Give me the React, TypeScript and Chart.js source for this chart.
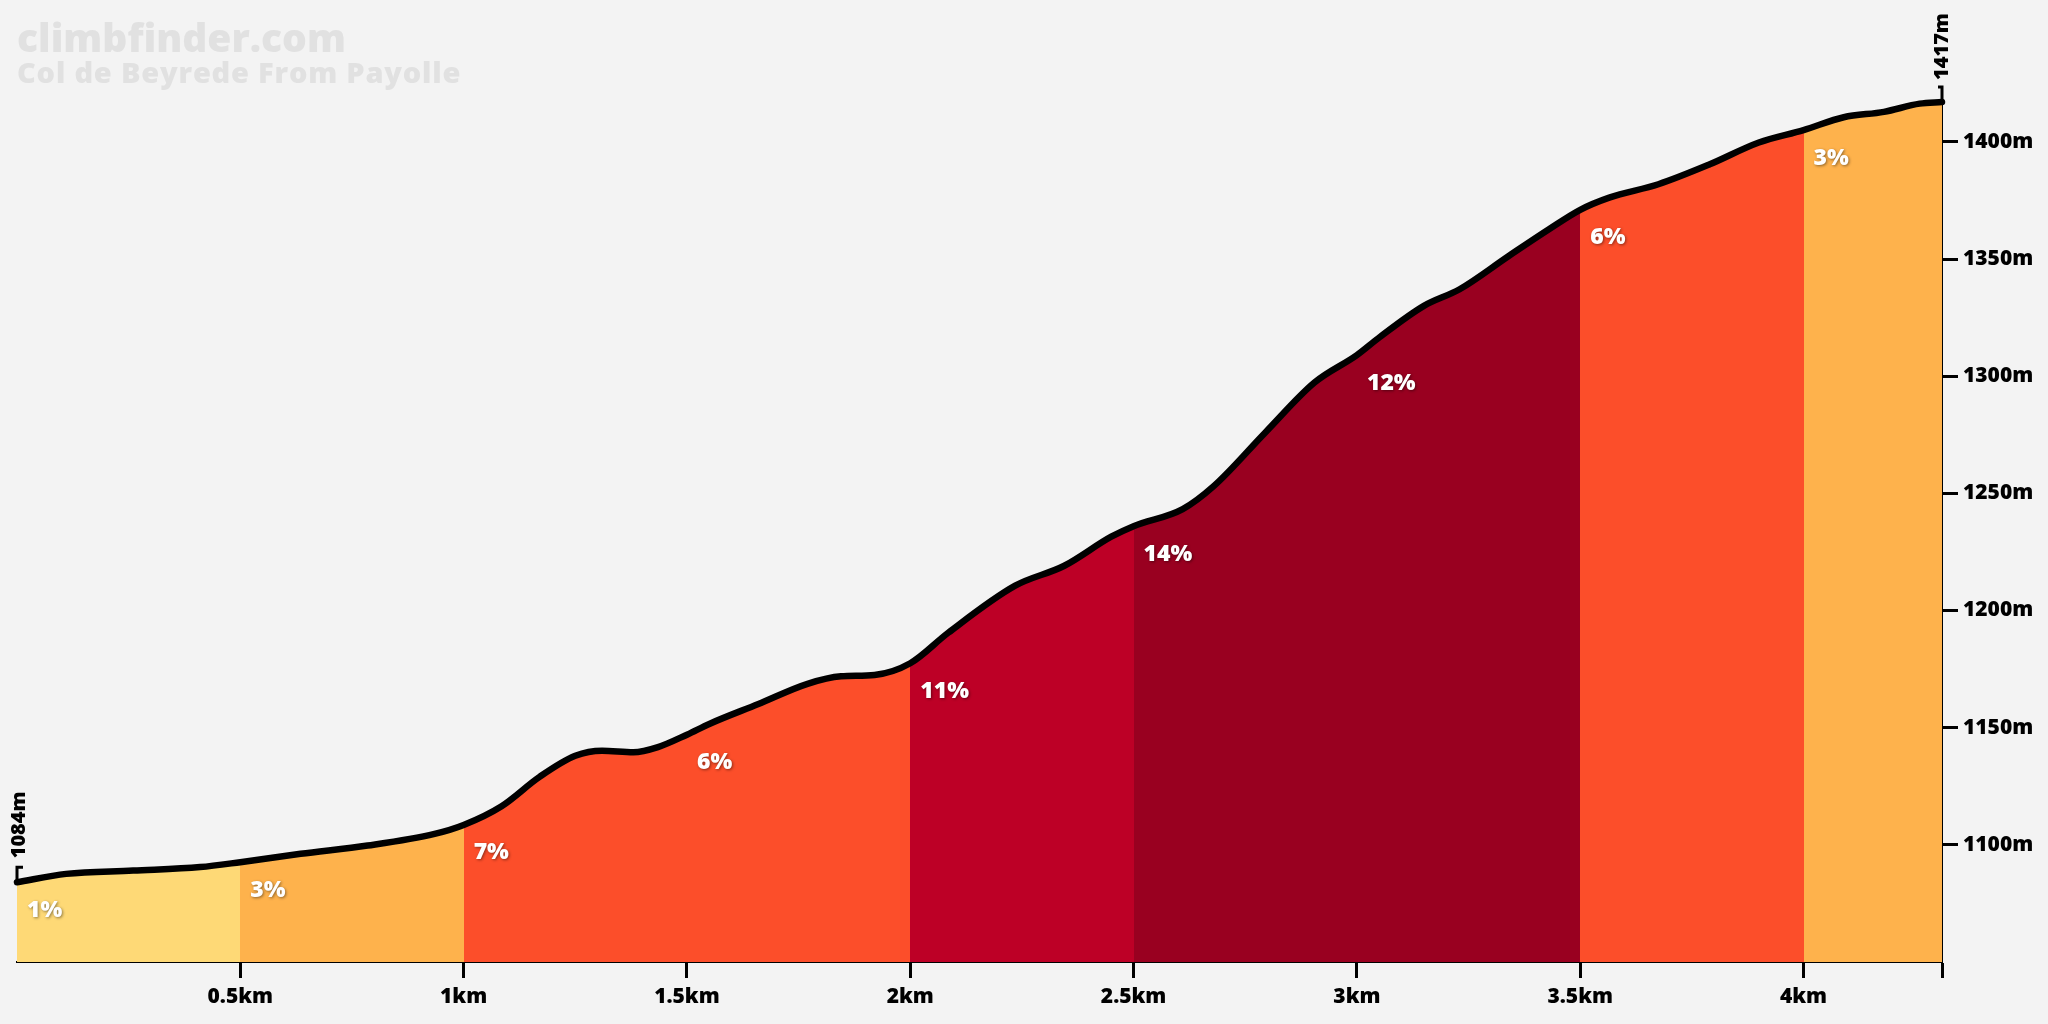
import React, { useEffect, useRef } from "react";
import { Chart, registerables } from "chart.js";

Chart.register(...registerables);

const TITLE = "climbfinder.com";
const SUBTITLE = "Col de Beyrede From Payolle";

// Profile (distance in km, elevation in m)
const distanceKm = [
  0, 0.11, 0.26, 0.41, 0.5, 0.635, 0.785, 0.935, 1.0, 1.085, 1.17, 1.25, 1.31,
  1.38, 1.435, 1.5, 1.55, 1.66, 1.77, 1.845, 1.92, 2.0, 2.085, 2.235, 2.345,
  2.45, 2.5, 2.61, 2.68, 2.795, 2.905, 3.0, 3.05, 3.15, 3.23, 3.34, 3.43, 3.5,
  3.565, 3.675, 3.79, 3.9, 4.0, 4.09, 4.18, 4.26, 4.31,
];
const elevationM = [
  1084, 1087.6, 1089, 1090.5, 1092.6, 1096.2, 1099.7, 1104.7, 1108.5, 1116.5,
  1129, 1138, 1140.2, 1139.5, 1141.7, 1147, 1151.6, 1160.1, 1168.7, 1171.9,
  1172.5, 1177.5, 1190.5, 1210.6, 1219.1, 1231.5, 1236, 1243.3, 1253.2, 1276,
  1297.3, 1309, 1316.5, 1330, 1337.1, 1351.3, 1362.7, 1371, 1376.2, 1381.9,
  1390.4, 1399.7, 1405, 1410.5, 1412.8, 1416.3, 1417,
];

// Gradient segments
const segmentStartKm = [0, 0.5, 1, 1.5, 2, 2.5, 3, 3.5, 4];
const segmentGradePct = [1, 3, 7, 6, 11, 14, 12, 6, 3];

// Axes
const xTickValues = [0.5, 1, 1.5, 2, 2.5, 3, 3.5, 4, 4.31];
const xTickLabels = ["0.5km", "1km", "1.5km", "2km", "2.5km", "3km", "3.5km", "4km", ""];
const yTickValues = [1100, 1150, 1200, 1250, 1300, 1350, 1400];
const startLabel = "1084m";
const endLabel = "1417m";

const FONT = "'Open Sans', Lato, sans-serif";

function gradeColor(g: number): string {
  if (g >= 12) return "#990020";
  if (g >= 9) return "#BD0026";
  if (g >= 5) return "#FC4E2A";
  if (g >= 2) return "#FEB24C";
  return "#FED976";
}

function elevationAt(km: number): number {
  let best = 0;
  for (let i = 0; i < distanceKm.length; i++) {
    if (Math.abs(distanceKm[i] - km) < Math.abs(distanceKm[best] - km)) best = i;
  }
  return elevationM[best];
}

export default function App() {
  const ref = useRef<HTMLCanvasElement>(null);

  useEffect(() => {
    document.body.style.margin = "0";
    document.body.style.background = "#f3f3f3";
    const canvas = ref.current!;
    const points = distanceKm.map((x, i) => ({ x, y: elevationM[i] }));

    const fillColor = (c: any) => {
      const chart = c.chart;
      const area = chart.chartArea;
      const xs = chart.scales && chart.scales.x;
      if (!area || !xs) return gradeColor(segmentGradePct[0]);
      const g = chart.ctx.createLinearGradient(area.left, 0, area.right, 0);
      const w = area.right - area.left;
      segmentStartKm.forEach((s, i) => {
        const a = Math.min(1, Math.max(0, (xs.getPixelForValue(s) - area.left) / w));
        const b =
          i + 1 < segmentStartKm.length
            ? Math.min(1, Math.max(0, (xs.getPixelForValue(segmentStartKm[i + 1]) - area.left) / w))
            : 1;
        const col = gradeColor(segmentGradePct[i]);
        g.addColorStop(a, col);
        g.addColorStop(b, col);
      });
      return g;
    };

    const overlay = {
      id: "overlay",
      beforeDraw(chart: any) {
        const { ctx, width, height } = chart;
        ctx.save();
        ctx.fillStyle = "#f3f3f3";
        ctx.fillRect(0, 0, width, height);
        ctx.fillStyle = "#e1e1e1";
        ctx.textAlign = "left";
        ctx.textBaseline = "alphabetic";
        ctx.font = `800 39px ${FONT}`;
        ctx.fillText(TITLE, 17, 52);
        ctx.font = `800 29px ${FONT}`;
        try {
          (ctx as any).letterSpacing = "0.8px";
        } catch (e) {}
        ctx.fillText(SUBTITLE, 17, 83);
        ctx.restore();
      },
      afterDatasetsDraw(chart: any) {
        const { ctx } = chart;
        const xs = chart.scales.x;
        const ys = chart.scales.y;
        ctx.save();
        ctx.font = `800 23px ${FONT}`;
        ctx.textAlign = "left";
        ctx.textBaseline = "middle";
        ctx.fillStyle = "#ffffff";
        ctx.shadowColor = "rgba(0,0,0,0.45)";
        ctx.shadowBlur = 3;
        ctx.shadowOffsetX = 1;
        ctx.shadowOffsetY = 1;
        segmentStartKm.forEach((s, i) => {
          const px = xs.getPixelForValue(s) + 10;
          const py = ys.getPixelForValue(elevationAt(s)) + 28;
          ctx.fillText(`${segmentGradePct[i]}%`, px, py);
        });
        ctx.restore();

        ctx.save();
        ctx.strokeStyle = "#000";
        ctx.fillStyle = "#000";
        ctx.lineWidth = 3;
        const sx = xs.getPixelForValue(distanceKm[0]);
        const sy = ys.getPixelForValue(elevationM[0]);
        ctx.beginPath();
        ctx.moveTo(sx + 6, sy - 15);
        ctx.lineTo(sx, sy - 15);
        ctx.lineTo(sx, sy);
        ctx.stroke();
        const ex = xs.getPixelForValue(distanceKm[distanceKm.length - 1]);
        const ey = ys.getPixelForValue(elevationM[elevationM.length - 1]);
        ctx.beginPath();
        ctx.moveTo(ex - 4, ey - 15);
        ctx.lineTo(ex, ey - 15);
        ctx.lineTo(ex, ey);
        ctx.stroke();

        ctx.font = `800 20px ${FONT}`;
        ctx.textAlign = "left";
        ctx.textBaseline = "middle";
        ctx.save();
        ctx.translate(sx + 2, sy - 24);
        ctx.rotate(-Math.PI / 2);
        ctx.fillText(startLabel, 0, 0);
        ctx.restore();
        ctx.save();
        ctx.translate(ex, ey - 22);
        ctx.rotate(-Math.PI / 2);
        ctx.fillText(endLabel, 0, 0);
        ctx.restore();
        ctx.restore();
      },
    };

    const tickFont = { family: FONT, size: 21, weight: "800" as any };

    const chart = new Chart(canvas, {
      type: "line",
      data: {
        datasets: [
          {
            data: points,
            borderColor: "#000000",
            borderWidth: 6.5,
            pointRadius: 0,
            fill: "start",
            backgroundColor: fillColor,
            tension: 0.4,
            cubicInterpolationMode: "monotone",
            clip: false as any,
            borderCapStyle: "round",
            borderJoinStyle: "round",
          } as any,
        ],
      },
      options: {
        responsive: false,
        animation: false,
        devicePixelRatio: 1,
        events: [],
        layout: { padding: { left: 17, top: 102, right: 0, bottom: 0 } },
        plugins: {
          legend: { display: false },
          tooltip: { enabled: false },
          title: { display: false },
        },
        scales: {
          x: {
            type: "linear",
            min: 0,
            max: distanceKm[distanceKm.length - 1],
            afterBuildTicks: (s: any) => {
              s.ticks = xTickValues.map((v) => ({ value: v }));
            },
            afterFit: (s: any) => {
              s.height = 62;
            },
            ticks: {
              autoSkip: false,
              maxRotation: 0,
              padding: 6,
              color: "#000",
              font: tickFont,
              callback: (_v: any, i: number) => xTickLabels[i],
            },
            grid: {
              display: true,
              drawOnChartArea: false,
              drawTicks: true,
              tickLength: 16,
              tickWidth: 3,
              tickColor: "#000",
            },
            border: { display: true, color: "#000", width: 2 },
          },
          y: {
            type: "linear",
            position: "right",
            min: 1050,
            max: 1417,
            afterBuildTicks: (s: any) => {
              s.ticks = yTickValues.map((v) => ({ value: v }));
            },
            afterFit: (s: any) => {
              s.width = 106;
            },
            ticks: {
              autoSkip: false,
              padding: 5,
              color: "#000",
              font: tickFont,
              callback: (v: any) => `${v}m`,
            },
            grid: {
              display: true,
              drawOnChartArea: false,
              drawTicks: true,
              tickLength: 16,
              tickWidth: 3,
              tickColor: "#000",
            },
            border: { display: true, color: "#000", width: 2 },
          },
        },
      } as any,
      plugins: [overlay],
    });

    return () => chart.destroy();
  }, []);

  return (
    <div style={{ position: "absolute", left: 0, top: 0, width: 2048, height: 1024 }}>
      <canvas ref={ref} width={2048} height={1024} style={{ display: "block", width: 2048, height: 1024 }} />
    </div>
  );
}
